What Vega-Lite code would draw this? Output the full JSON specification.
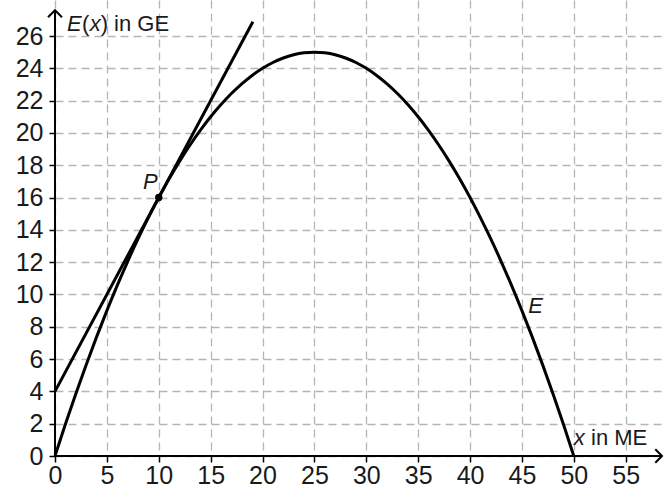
{
  "$schema": "https://vega.github.io/schema/vega-lite/v6.json",
  "autosize": "none",
  "width": 607,
  "height": 456,
  "padding": {"left": 55, "top": 0, "right": 6, "bottom": 36},
  "background": "white",
  "config": {
    "view": {"stroke": null},
    "font": "Liberation Sans",
    "axis": {
      "labelFont": "Liberation Sans",
      "labelFontSize": 25,
      "labelColor": "#1a1a1a",
      "labelFlush": false,
      "labelOverlap": false,
      "domain": false,
      "tickColor": "#000000",
      "tickWidth": 1.5,
      "tickSize": 6,
      "grid": true,
      "gridColor": "#b5b5b5",
      "gridDash": [8, 5],
      "gridWidth": 1.3,
      "title": null
    }
  },
  "datasets": {
    "curve": [
      {"x": 0, "y": 0}, {"x": 1, "y": 1.96}, {"x": 2, "y": 3.84}, {"x": 3, "y": 5.64}, {"x": 4, "y": 7.36},
      {"x": 5, "y": 9}, {"x": 6, "y": 10.56}, {"x": 7, "y": 12.04}, {"x": 8, "y": 13.44}, {"x": 9, "y": 14.76},
      {"x": 10, "y": 16}, {"x": 11, "y": 17.16}, {"x": 12, "y": 18.24}, {"x": 13, "y": 19.24}, {"x": 14, "y": 20.16},
      {"x": 15, "y": 21}, {"x": 16, "y": 21.76}, {"x": 17, "y": 22.44}, {"x": 18, "y": 23.04}, {"x": 19, "y": 23.56},
      {"x": 20, "y": 24}, {"x": 21, "y": 24.36}, {"x": 22, "y": 24.64}, {"x": 23, "y": 24.84}, {"x": 24, "y": 24.96},
      {"x": 25, "y": 25}, {"x": 26, "y": 24.96}, {"x": 27, "y": 24.84}, {"x": 28, "y": 24.64}, {"x": 29, "y": 24.36},
      {"x": 30, "y": 24}, {"x": 31, "y": 23.56}, {"x": 32, "y": 23.04}, {"x": 33, "y": 22.44}, {"x": 34, "y": 21.76},
      {"x": 35, "y": 21}, {"x": 36, "y": 20.16}, {"x": 37, "y": 19.24}, {"x": 38, "y": 18.24}, {"x": 39, "y": 17.16},
      {"x": 40, "y": 16}, {"x": 41, "y": 14.76}, {"x": 42, "y": 13.44}, {"x": 43, "y": 12.04}, {"x": 44, "y": 10.56},
      {"x": 45, "y": 9}, {"x": 46, "y": 7.36}, {"x": 47, "y": 5.64}, {"x": 48, "y": 3.84}, {"x": 49, "y": 1.96},
      {"x": 50, "y": 0}
    ],
    "tangent": [{"x": 0, "y": 4}, {"x": 19.07, "y": 26.88}],
    "point": [{"x": 10, "y": 16}],
    "xaxisline": [{"x": 0, "y": 0}, {"x": 58.5, "y": 0}],
    "yaxisline": [{"x": 0, "y": 0}, {"x": 0, "y": 27.6}],
    "italicText": [
      {"t": "E", "x": 1.16, "y": 26.3},
      {"t": "x", "x": 3.34, "y": 26.3},
      {"t": "P", "x": 8.48, "y": 16.53},
      {"t": "E", "x": 45.62, "y": 8.85},
      {"t": "x", "x": 50.0, "y": 0.68}
    ],
    "regularText": [
      {"t": "(", "x": 2.6, "y": 26.3},
      {"t": ") in GE", "x": 4.4, "y": 26.3},
      {"t": "in ME", "x": 51.66, "y": 0.68}
    ]
  },
  "encoding": {
    "x": {"field": "x", "type": "quantitative", "scale": {"domain": [0, 58.5], "nice": false, "zero": false},
          "axis": {"values": [0, 5, 10, 15, 20, 25, 30, 35, 40, 45, 50, 55], "labelPadding": 1}},
    "y": {"field": "y", "type": "quantitative", "scale": {"domain": [0, 28.23], "nice": false, "zero": false},
          "axis": {"values": [0, 2, 4, 6, 8, 10, 12, 14, 16, 18, 20, 22, 24, 26], "labelPadding": 6}}
  },
  "layer": [
    {"data": {"name": "xaxisline"}, "mark": {"type": "line", "color": "black", "strokeWidth": 2}},
    {"data": {"name": "yaxisline"}, "mark": {"type": "line", "color": "black", "strokeWidth": 2}},
    {"data": {"name": "xaxisline"}, "transform": [{"filter": "datum.x > 1"}],
     "mark": {"type": "point", "shape": "M-1,-1L0,0L-1,1", "size": 180, "filled": false, "stroke": "black", "strokeWidth": 2, "opacity": 1}},
    {"data": {"name": "yaxisline"}, "transform": [{"filter": "datum.y > 1"}],
     "mark": {"type": "point", "shape": "M-1,1L0,0L1,1", "size": 196, "filled": false, "stroke": "black", "strokeWidth": 2, "opacity": 1}},
    {"data": {"name": "curve"}, "mark": {"type": "line", "color": "black", "strokeWidth": 3, "interpolate": "monotone"}},
    {"data": {"name": "tangent"}, "mark": {"type": "line", "color": "black", "strokeWidth": 3}},
    {"data": {"name": "point"}, "mark": {"type": "point", "shape": "circle", "size": 55, "filled": true, "color": "black", "opacity": 1}},
    {"data": {"name": "italicText"},
     "mark": {"type": "text", "font": "Liberation Sans", "fontSize": 22, "fontStyle": "italic", "align": "left", "baseline": "alphabetic", "color": "#1a1a1a"},
     "encoding": {"text": {"field": "t"}}},
    {"data": {"name": "regularText"},
     "mark": {"type": "text", "font": "Liberation Sans", "fontSize": 22, "align": "left", "baseline": "alphabetic", "color": "#1a1a1a"},
     "encoding": {"text": {"field": "t"}}}
  ]
}
